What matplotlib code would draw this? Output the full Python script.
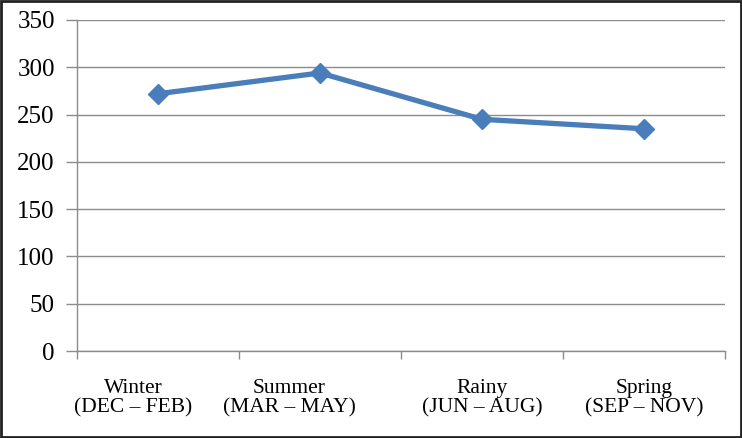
import matplotlib
matplotlib.use("Agg")
import matplotlib.pyplot as plt
import matplotlib.transforms as mtransforms
from matplotlib.patches import Rectangle

# data
seasons = ["Winter\n(DEC \u2013 FEB)", "Summer\n(MAR \u2013 MAY)",
           "Rainy\n(JUN \u2013 AUG)", "Spring\n(SEP \u2013 NOV)"]
values = [272, 294, 245, 235]
y_ticks = [0, 50, 100, 150, 200, 250, 300, 350]

plt.rcParams['font.family'] = ['Liberation Serif', 'DejaVu Serif']

fig = plt.figure(figsize=(7.42, 4.38), dpi=100)
ax = fig.add_axes([77 / 742, (438 - 351) / 438, (725 - 77) / 742, (351 - 20) / 438])

grid_col = '#8c8c8c'
x = list(range(len(seasons)))

ax.plot(x, values, color='#4a7ebb', linewidth=3.8, marker='D', markersize=10,
        markeredgecolor='#4a7ebb', solid_capstyle='round', zorder=3)

ax.set_xlim(-0.5, len(seasons) - 0.5)
ax.set_ylim(0, 350)
ax.set_yticks(y_ticks)
ax.yaxis.grid(True, color=grid_col, linewidth=1.0)
ax.set_axisbelow(True)

# category labels at centres, tick marks at boundaries
ax.set_xticks(x)
ax.set_xticklabels(seasons, fontsize=15.5, linespacing=1.05)
ax.set_xticks([i - 0.5 for i in range(len(seasons) + 1)], minor=True)
ax.tick_params(axis='x', which='major', length=0, pad=20)
ax.tick_params(axis='x', which='minor', length=6, color=grid_col, width=1.0)
ax.tick_params(axis='y', length=8, color=grid_col, width=1.0, pad=8, labelsize=18)

# excel places the first two labels a bit left of centre
shifts = [-25, -31, 0, 0]
for lab, dx in zip(ax.get_xticklabels(), shifts):
    lab.set_transform(lab.get_transform() + mtransforms.ScaledTranslation(dx / 100, 0, fig.dpi_scale_trans))

for side in ['top', 'right']:
    ax.spines[side].set_visible(False)
for side in ['left', 'bottom']:
    ax.spines[side].set_color(grid_col)
    ax.spines[side].set_linewidth(1.0)

# frame around the whole picture
fig.patches.append(Rectangle((0.001, 0.002), 0.997, 0.995, transform=fig.transFigure,
                             fill=False, edgecolor='#222222', linewidth=2.0))

fig.savefig("out.png", dpi=100)
